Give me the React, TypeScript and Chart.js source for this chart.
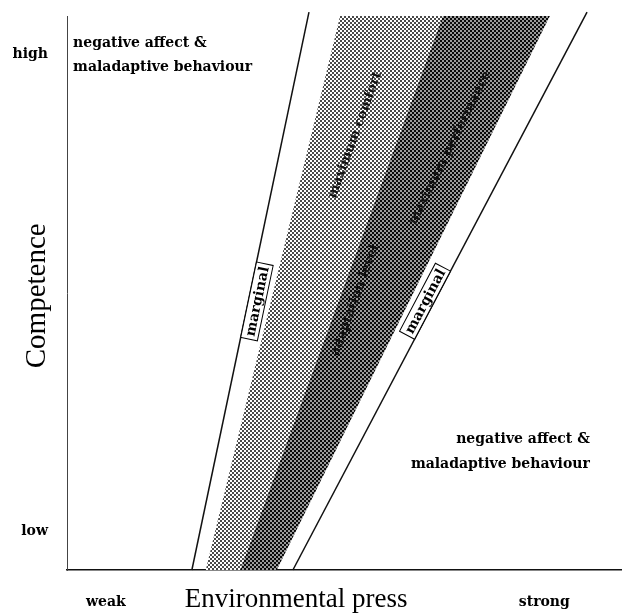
import React, { useEffect, useRef } from "react";
import { Chart, registerables } from "chart.js";

Chart.register(...registerables);

// ---- axis ticks & titles ----
const xTickValues = [7, 86];
const xTickLabels = ["weak", "strong"];
const yTickValues = [7, 93];
const yTickLabels = ["low", "high"];
const xAxisTitle = "Environmental press";
const yAxisTitle = "Competence";
const xAxisTitleAt = 41.3;

// ---- zone boundaries (environmental press at competence = 0 and at the top) ----
const zoneBottomY = 0;
const zoneTopY = 100;
const zoneEdgesAtBottom = [25.0, 31.2, 37.8];
const zoneEdgesAtTop = [49.2, 67.7, 87.0];

// ---- marginal lines ----
const marginalAtBottom = [22.5, 40.7];
const marginalAtTop = [43.6, 93.7];
const marginalTopY = 100.7;

// ---- labels ----
const zoneLabels = ["maximum comfort", "adaptation level", "maximum performance"];
const zoneLabelX = [51.9, 51.9, 69.0];
const zoneLabelY = [78.5, 48.7, 76.2];
const zoneLabelEdge = [1, 1, 2];
const marginalLabel = "marginal";
const marginalLabelY = [48.8, 47.8];
const outcomeLines = ["negative affect &", "maladaptive behaviour"];
const outcomeTopX = 1.1;
const outcomeTopY = [95.1, 90.8];
const outcomeBottomX = 94.2;
const outcomeBottomY = [23.5, 19.1];

const BOLD = 'bold 14px "DejaVu Serif"';
const XTITLE = '27px "Liberation Serif"';
const YTITLE = '29px "Liberation Serif"';

function makePattern(ctx: CanvasRenderingContext2D, bg: string, fg: string) {
  const c = document.createElement("canvas");
  c.width = 4;
  c.height = 4;
  const g = c.getContext("2d")!;
  g.fillStyle = bg;
  g.fillRect(0, 0, 4, 4);
  g.fillStyle = fg;
  g.fillRect(0, 0, 2, 2);
  g.fillRect(2, 2, 2, 2);
  return ctx.createPattern(c, "repeat");
}

const labelsPlugin = {
  id: "ecoLabels",
  afterDatasetsDraw(chart: any) {
    const { ctx, chartArea } = chart;
    const xs = chart.scales.x;
    const ys = chart.scales.y;
    const px = (v: number) => xs.getPixelForValue(v);
    const py = (v: number) => ys.getPixelForValue(v);
    ctx.save();
    ctx.fillStyle = "#000";
    ctx.textBaseline = "middle";

    // outcome texts
    ctx.font = BOLD;
    ctx.textAlign = "left";
    outcomeLines.forEach((t, i) => ctx.fillText(t, px(outcomeTopX), py(outcomeTopY[i])));
    ctx.textAlign = "right";
    outcomeLines.forEach((t, i) => ctx.fillText(t, px(outcomeBottomX), py(outcomeBottomY[i])));

    // zone labels
    ctx.textAlign = "center";
    ctx.font = 'bold 13px "DejaVu Serif"';
    zoneLabels.forEach((t, i) => {
      const e = zoneLabelEdge[i];
      const ang = Math.atan2(
        py(zoneTopY) - py(zoneBottomY),
        px(zoneEdgesAtTop[e]) - px(zoneEdgesAtBottom[e])
      );
      ctx.save();
      ctx.translate(px(zoneLabelX[i]), py(zoneLabelY[i]));
      ctx.rotate(ang);
      ctx.fillStyle = "#111";
      ctx.fillText(t, 0, 0);
      ctx.restore();
    });

    // marginal labels (boxed, sitting on the line)
    ctx.font = BOLD;
    marginalAtBottom.forEach((b, i) => {
      const t = marginalAtTop[i];
      const ang = Math.atan2(py(marginalTopY) - py(0), px(t) - px(b));
      const yv = marginalLabelY[i];
      const xv = b + ((t - b) * yv) / marginalTopY;
      const w = ctx.measureText(marginalLabel).width + 6;
      const h = 17;
      const side = i === 0 ? 1 : -1;
      ctx.save();
      ctx.translate(px(xv), py(yv));
      ctx.rotate(ang);
      const cy = (side * h) / 2;
      ctx.fillStyle = "#fff";
      ctx.fillRect(-w / 2, cy - h / 2, w, h);
      ctx.strokeStyle = "#000";
      ctx.lineWidth = 1;
      ctx.strokeRect(-w / 2, cy - h / 2, w, h);
      ctx.fillStyle = "#000";
      ctx.fillText(marginalLabel, 0, cy + 1);
      ctx.restore();
    });

    // axis titles
    ctx.font = XTITLE;
    ctx.textAlign = "center";
    ctx.fillText(xAxisTitle, px(xAxisTitleAt), chartArea.bottom + 30);
    ctx.font = YTITLE;
    ctx.save();
    ctx.translate(chartArea.left - 30, py(49.5));
    ctx.rotate(-Math.PI / 2);
    ctx.fillText(yAxisTitle, 0, 0);
    ctx.restore();

    ctx.restore();
  },
};

export default function App() {
  const ref = useRef<HTMLCanvasElement>(null);
  useEffect(() => {
    document.body.style.margin = "0";
    const canvas = ref.current!;
    const ctx = canvas.getContext("2d")!;
    const light = makePattern(ctx, "#ffffff", "#4a4a4a");
    const dark = makePattern(ctx, "#9a9a9a", "#0a0a0a");

    const band = (i: number) => [
      { x: zoneEdgesAtBottom[i], y: zoneBottomY },
      { x: zoneEdgesAtTop[i], y: zoneTopY },
      { x: zoneEdgesAtTop[i + 1], y: zoneTopY },
      { x: zoneEdgesAtBottom[i + 1], y: zoneBottomY },
    ];
    const marg = (i: number) => [
      { x: marginalAtBottom[i], y: 0 },
      { x: marginalAtTop[i], y: marginalTopY },
    ];

    const chart = new Chart(canvas, {
      type: "line",
      data: {
        datasets: [
          { data: band(0), fill: "shape", backgroundColor: light as any, borderColor: "rgba(0,0,0,0)", borderWidth: 0, pointRadius: 0 },
          { data: band(1), fill: "shape", backgroundColor: dark as any, borderColor: "rgba(0,0,0,0)", borderWidth: 0, pointRadius: 0 },
          { data: marg(0), borderColor: "#111", borderWidth: 1.5, pointRadius: 0, fill: false, clip: false as any },
          { data: marg(1), borderColor: "#111", borderWidth: 1.5, pointRadius: 0, fill: false, clip: false as any },
        ],
      },
      options: {
        animation: false,
        responsive: false,
        layout: { padding: { top: 16, right: 0, bottom: 0, left: 0 } },
        plugins: { legend: { display: false }, tooltip: { enabled: false } },
        scales: {
          x: {
            type: "linear",
            min: 0,
            max: 100,
            afterBuildTicks: (s: any) => {
              s.ticks = xTickValues.map((v) => ({ value: v }));
            },
            afterFit: (s: any) => {
              s.height = 45;
              s.paddingLeft = 0;
              s.paddingRight = 0;
            },
            ticks: {
              autoSkip: false,
              maxRotation: 0,
              padding: 24,
              color: "#000",
              font: { family: "DejaVu Serif", size: 14, weight: "bold" },
              callback: (_v: any, i: number) => xTickLabels[i],
            },
            grid: { drawOnChartArea: false, drawTicks: false },
            border: { display: true, color: "#111", width: 1.5 },
          },
          y: {
            type: "linear",
            min: 0,
            max: 100,
            afterBuildTicks: (s: any) => {
              s.ticks = yTickValues.map((v) => ({ value: v }));
            },
            afterFit: (s: any) => {
              s.width = 67;
              s.paddingTop = 0;
              s.paddingBottom = 0;
            },
            ticks: {
              autoSkip: false,
              padding: 19,
              color: "#000",
              font: { family: "DejaVu Serif", size: 14, weight: "bold" },
              callback: (_v: any, i: number) => yTickLabels[i],
            },
            grid: { drawOnChartArea: false, drawTicks: false },
            border: { display: true, color: "#444", width: 1 },
          },
        },
      },
      plugins: [labelsPlugin],
    });
    return () => chart.destroy();
  }, []);
  return <canvas ref={ref} width={622} height={615} style={{ display: "block" }} />;
}
